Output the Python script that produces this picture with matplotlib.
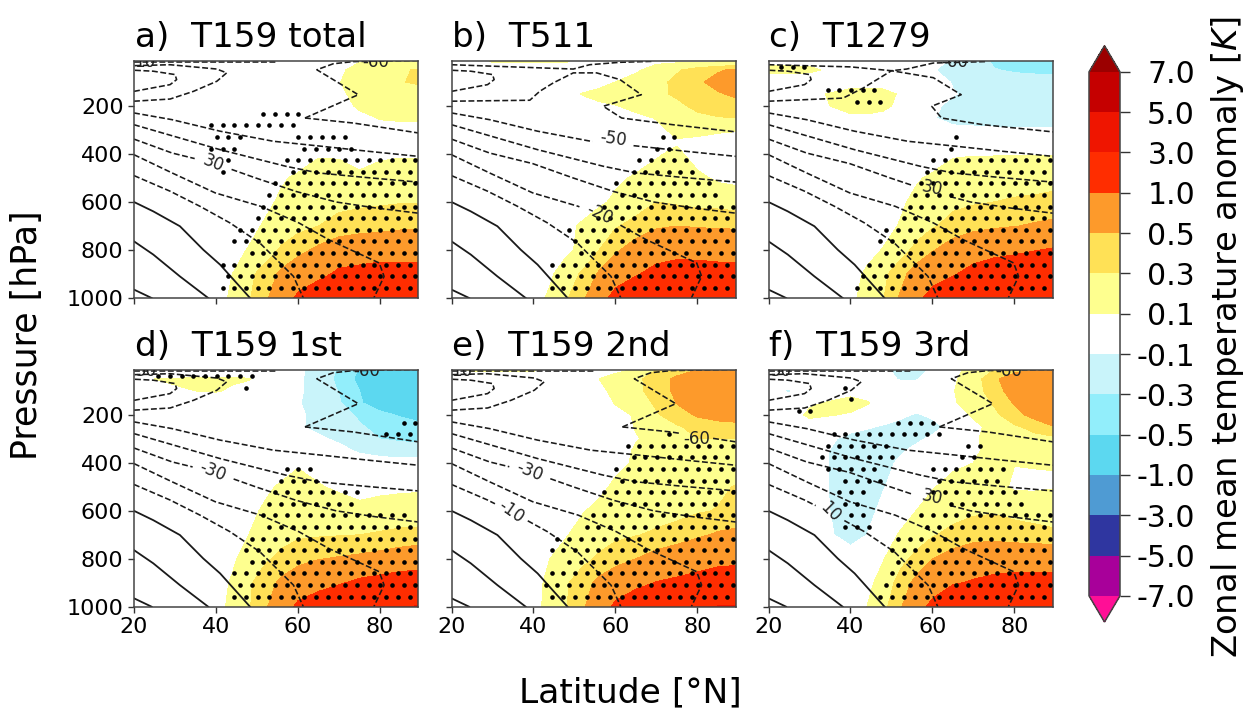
import numpy as np
import matplotlib
matplotlib.use('Agg')
import matplotlib.pyplot as plt
from matplotlib.colors import ListedColormap, BoundaryNorm

# grid the anomalies were read on
lats = [20, 25, 30, 40, 44, 48, 52, 56, 60, 65, 70, 75, 80, 85, 90]
pres = [12, 50, 100, 150, 200, 250, 300, 350, 400, 500, 600, 700, 800, 900, 1000]

levels = [-7, -5, -3, -1, -0.5, -0.3, -0.1, 0.1, 0.3, 0.5, 1, 3, 5, 7]
colors = ['#a8009a', '#2f36a0', '#4f9bd3', '#5cd8f0', '#92eefb', '#c9f4fa', '#ffffff',
          '#feff8f', '#ffe156', '#fd9a2b', '#ff2d00', '#ef1500', '#c50000']

titles = ['a)  T159 total', 'b)  T511', 'c)  T1279', 'd)  T159 1st', 'e)  T159 2nd', 'f)  T159 3rd']

anom_a = [
    [0, 0, 0, 0, 0, 0, 0, 0, 0, 0, .05, .08, .08, .08, .08],
    [0, 0, 0, 0, 0, 0, 0, 0, 0, .01, .05, .2, .25, .28, .32],
    [0, 0, 0, 0, 0, 0, 0, 0, 0, 0, .09, .2, .25, .29, .33],
    [0, 0, 0, 0, 0, 0, 0, 0, 0, 0, .05, .18, .22, .22, .22],
    [0, 0, 0, 0, 0, 0, 0, 0, 0, 0, .02, .13, .18, .18, .18],
    [0, 0, 0, 0, 0, 0, 0, 0, 0, 0, 0, .05, .11, .12, .12],
    [0, 0, 0, 0, 0, 0, 0, 0, 0, 0, 0, 0, .04, .05, .06],
    [0, 0, 0, 0, 0, 0, 0, 0, 0, 0, 0, 0, 0, 0, 0],
    [0, 0, 0, 0, 0, 0, 0, 0, 0, .08, .08, .06, .07, .08, .08],
    [0, 0, 0, 0, 0, 0, .03, .08, .13, .2, .17, .12, .17, .2, .2],
    [0, 0, 0, 0, 0, 0, .06, .13, .2, .24, .26, .27, .28, .29, .29],
    [0, 0, 0, 0, 0, .05, .12, .18, .24, .3, .35, .38, .4, .43, .44],
    [0, 0, 0, 0, .05, .11, .2, .33, .43, .55, .68, .75, .8, .85, .85],
    [0, 0, 0, .03, .1, .25, .38, .55, .68, .85, 1.1, 1.15, 1.2, 1.15, 1.15],
    [0, 0, 0, .03, .13, .28, .45, .7, 1.1, 1.4, 1.6, 3.02, 3.05, 3.05, 3.05],
]
anom_b = [
    [0, 0, .12, .12, .12, .12, .02, 0, 0, 0, .05, .05, .05, .05, .05],
    [0, 0, 0, 0, 0, 0, 0, 0, 0, .07, .18, .28, .38, .47, .55],
    [0, 0, 0, 0, 0, 0, 0, .04, .1, .18, .25, .34, .45, .6, .75],
    [0, 0, 0, 0, 0, .02, .11, .15, .2, .24, .27, .32, .42, .47, .56],
    [0, 0, 0, 0, 0, 0, .03, .07, .09, .16, .22, .27, .33, .38, .4],
    [0, 0, 0, 0, 0, 0, 0, 0, 0, .05, .11, .18, .27, .29, .3],
    [0, 0, 0, 0, 0, 0, 0, 0, 0, 0, .05, .15, .16, .13, .11],
    [0, 0, 0, 0, 0, 0, 0, 0, 0, 0, .03, .08, .05, .02, .02],
    [0, 0, 0, 0, 0, 0, 0, 0, 0, .02, .08, .14, .02, 0, 0],
    [0, 0, 0, 0, 0, 0, 0, 0, .07, .12, .18, .2, .14, .07, .05],
    [0, 0, 0, 0, 0, 0, 0, .07, .13, .2, .3, .27, .24, .23, .2],
    [0, 0, 0, 0, 0, .05, .13, .2, .28, .37, .47, .5, .48, .47, .46],
    [0, 0, 0, 0, .05, .06, .15, .3, .46, .62, .72, .8, .78, .75, .75],
    [0, 0, 0, .03, .07, .2, .33, .53, .72, .95, 1.2, 1.3, 1.3, 1.25, 1.25],
    [0, 0, 0, .03, .13, .28, .45, .75, 1.2, 1.5, 1.6, 1.7, 3.02, 3.05, 3.05],
]
anom_c = [
    [.05, .05, .05, 0, 0, 0, 0, 0, -.02, -.13, -.2, -.33, -.36, -.38, -.4],
    [.15, .15, .13, .02, 0, 0, 0, 0, -.09, -.15, -.2, -.29, -.32, -.33, -.33],
    [0, 0, 0, 0, 0, 0, 0, 0, -.04, -.11, -.15, -.2, -.23, -.24, -.25],
    [0, 0, .05, .18, .2, .17, .08, 0, -.02, -.09, -.14, -.17, -.19, -.2, -.2],
    [0, 0, .03, .17, .18, .15, .05, 0, -.07, -.14, -.16, -.18, -.18, -.18, -.18],
    [0, 0, 0, .06, .06, .03, 0, 0, -.09, -.14, -.16, -.16, -.16, -.16, -.16],
    [0, 0, 0, 0, 0, 0, 0, 0, -.02, -.07, -.07, -.08, -.08, -.08, -.08],
    [0, 0, 0, 0, 0, 0, 0, 0, 0, 0, 0, 0, 0, 0, 0],
    [0, 0, 0, 0, 0, 0, 0, 0, 0, .08, .09, .09, .09, .09, .09],
    [0, 0, 0, 0, 0, 0, 0, .08, .13, .19, .2, .21, .22, .23, .23],
    [0, 0, 0, 0, 0, 0, .07, .14, .22, .26, .28, .3, .32, .33, .36],
    [0, 0, 0, 0, 0, .04, .11, .18, .28, .36, .43, .46, .49, .53, .56],
    [0, 0, 0, 0, .04, .11, .2, .36, .48, .63, .72, .85, .9, .98, 1.05],
    [0, 0, 0, .03, .13, .25, .42, .6, .78, .95, 1.2, 1.3, 1.4, 1.5, 1.6],
    [0, 0, 0, .05, .18, .29, .52, .85, 1.2, 1.5, 1.6, 1.8, 3.02, 3.05, 3.05],
]
anom_d = [
    [0, 0, 0, 0, 0, 0, 0, 0, -.05, -.2, -.32, -.52, -.6, -.6, -.6],
    [.1, .1, .11, .12, .12, .11, .03, 0, -.07, -.18, -.35, -.56, -.7, -.75, -.75],
    [.03, .06, .09, .11, .08, .03, 0, 0, -.07, -.18, -.31, -.5, -.62, -.72, -.75],
    [0, 0, 0, 0, 0, 0, 0, 0, -.09, -.16, -.28, -.48, -.6, -.65, -.7],
    [0, 0, 0, 0, 0, 0, 0, 0, -.07, -.15, -.22, -.33, -.45, -.52, -.58],
    [0, 0, 0, 0, 0, 0, 0, 0, -.08, -.14, -.2, -.28, -.35, -.4, -.45],
    [0, 0, 0, 0, 0, 0, 0, 0, 0, -.07, -.13, -.19, -.3, -.33, -.35],
    [0, 0, 0, 0, 0, 0, 0, 0, 0, 0, -.05, -.12, -.16, -.2, -.2],
    [0, 0, 0, 0, 0, 0, 0, 0, .07, 0, 0, -.02, -.03, -.03, -.03],
    [0, 0, 0, 0, 0, 0, .06, .13, .2, .12, .06, .02, .05, .06, .07],
    [0, 0, 0, 0, 0, .05, .13, .2, .25, .24, .22, .16, .18, .2, .2],
    [0, 0, 0, 0, .03, .1, .2, .23, .27, .28, .29, .3, .32, .34, .35],
    [0, 0, 0, 0, .07, .18, .27, .35, .42, .49, .52, .55, .59, .65, .7],
    [0, 0, 0, .03, .12, .27, .4, .55, .68, .8, .95, 1.1, 1.2, 1.3, 1.35],
    [0, 0, 0, .03, .15, .28, .46, .72, 1.1, 1.35, 1.5, 1.6, 3.02, 3.05, 3.05],
]
anom_e = [
    [.08, .12, .12, .12, .02, 0, 0, 0, .05, .12, .3, .4, .5, .5, .5],
    [0, 0, 0, 0, 0, 0, 0, .1, .18, .26, .38, .55, .7, .75, .78],
    [0, 0, 0, 0, 0, 0, 0, .05, .15, .25, .38, .55, .72, .78, .8],
    [0, 0, 0, 0, 0, 0, 0, .02, .11, .2, .33, .51, .68, .72, .75],
    [0, 0, 0, 0, 0, 0, 0, 0, .04, .12, .28, .39, .53, .6, .63],
    [0, 0, 0, 0, 0, 0, 0, 0, .02, .11, .22, .28, .35, .4, .42],
    [0, 0, 0, 0, 0, 0, 0, 0, 0, .09, .14, .25, .3, .3, .3],
    [0, 0, 0, 0, 0, 0, 0, 0, .03, .12, .15, .16, .17, .18, .2],
    [0, 0, 0, 0, 0, 0, 0, .01, .06, .12, .15, .16, .16, .17, .17],
    [0, 0, 0, 0, 0, 0, 0, .06, .13, .17, .19, .2, .22, .26, .32],
    [0, 0, 0, 0, 0, 0, .09, .14, .18, .2, .22, .24, .28, .31, .36],
    [0, 0, 0, 0, 0, .09, .16, .22, .26, .29, .33, .38, .46, .53, .56],
    [0, 0, 0, 0, .1, .17, .25, .33, .4, .5, .6, .68, .75, .82, .85],
    [0, 0, 0, .03, .15, .28, .4, .56, .7, .85, 1.02, 1.1, 1.2, 1.35, 1.4],
    [0, 0, 0, .03, .17, .29, .46, .72, 1.1, 1.4, 1.6, 1.8, 3.02, 3.05, 3.05],
]
anom_f = [
    [0, 0, 0, 0, 0, -.06, -.16, -.18, -.06, .02, .2, .3, .42, .5, .5],
    [0, 0, 0, 0, 0, -.05, -.11, -.11, -.05, .07, .2, .45, .65, .72, .75],
    [-.05, -.12, 0, .03, 0, 0, 0, 0, 0, .09, .22, .38, .63, .72, .75],
    [0, 0, .07, .17, .12, 0, 0, 0, 0, .08, .18, .32, .52, .68, .72],
    [0, 0, .14, .08, 0, 0, -.06, -.12, -.07, .03, .12, .25, .42, .58, .65],
    [0, 0, 0, -.05, -.08, -.12, -.16, -.2, -.15, -.05, .06, .15, .27, .36, .5],
    [0, 0, 0, -.15, -.18, -.2, -.2, -.13, -.07, 0, .07, .18, .22, .24, .25],
    [0, 0, -.01, -.2, -.2, -.18, -.12, -.06, 0, 0, .08, .14, .16, .16, .16],
    [0, 0, -.01, -.2, -.18, -.14, -.08, 0, 0, .07, .1, .12, .105, .11, .105],
    [0, 0, 0, -.22, -.2, -.11, -.03, .05, .09, .15, .2, .17, .07, .07, .09],
    [0, 0, 0, -.2, -.16, -.05, .04, .1, .16, .22, .27, .28, .25, .24, .22],
    [0, 0, .02, -.18, -.1, .04, .11, .18, .28, .36, .4, .42, .38, .35, .33],
    [0, 0, 0, 0, .03, .09, .23, .36, .5, .6, .7, .72, .74, .75, .75],
    [0, 0, 0, 0, .05, .17, .37, .56, .72, .95, 1.05, 1.15, 1.2, 1.2, 1.2],
    [0, 0, 0, 0, .1, .24, .46, .75, 1.15, 1.5, 1.6, 1.7, 3.02, 3.05, 3.05],
]

# stippling: lat ranges, one entry per dot row counted up from the bottom
sig_a = [[(41, 90)], [(43, 90)], [(41, 90)], [(48, 90)], [(44, 90)], [(45, 90)], [(50, 90)], [(51, 90)], [(52.5, 90)],
         [(54, 90)], [(41, 42), (58, 90)], [(42.5, 44), (57, 90)], [(38, 45), (61, 75)], [(40, 46), (60, 74)],
         [(38, 59)], [(51, 60.5)]]
sig_b = [[(42, 90)], [(44, 90)], [(42, 90)], [(51, 90)], [(48, 90)], [(46.5, 90)], [(55, 90)], [(56, 90)], [(59, 85)],
         [(60, 83)], [(62, 79)], [(63, 78)], [(70, 74)], [(69, 75)]]
sig_c = [[(40.5, 90)], [(42, 90)], [(43.5, 90)], [(47, 90)], [(46, 90)], [(47, 90)], [(52, 90)], [(53, 90)], [(54.5, 90)],
         [(56, 90)], [(57, 90)], [(59, 90)], [(62.5, 64.5)], [(64, 66)], [], [], [(40.5, 50)], [(33.5, 48)], [], [(22, 31)]]
sig_d = [[(43, 90)], [(44, 90)], [(43, 90)], [(47, 90)], [(46, 90)], [(47, 90)], [(51, 90)], [(50, 88)], [(51, 75)],
         [(52.5, 76)], [(54, 66)], [(55, 65)], [], [], [(79, 88.5)], [(83, 89)], [], [], [(45.5, 49.5)], [(24, 50)]]
sig_e = [[(44, 90)], [(42, 90)], [(44, 90)], [(48, 90)], [(44, 90)], [(45, 90)], [(52, 90)], [(53.5, 90)], [(58, 90)],
         [(56.5, 90)], [(60.5, 90)], [(59, 90)], [(63, 90)], [(62, 90)], [(72, 75.5)]]
sig_f = [[(44.5, 90)], [(46, 90)], [(47.5, 90)], [(49, 90)], [(50, 90)], [(49, 90)], [(36.5, 45.5), (57, 90)],
         [(38, 44), (54.5, 90)], [(38, 43), (63, 82)], [(35, 44), (57.5, 81)], [(36.5, 48), (60, 76.5)],
         [(32.5, 47), (60, 77.5)], [(31, 51), (67, 70.5)], [(33.5, 51), (66, 72)], [(34.5, 62.5)], [(49, 61)],
         [(25, 31.5)], [(38, 41.5)], [(36.5, 40)]]

# isotherms (lat, pressure), same in all panels unless noted
iso_p20 = ([20, 24.3], [965, 1000])
iso_p10 = ([20, 24.7, 31.2, 38.1], [764, 819, 910, 1000])
iso_0 = ([20, 24.7, 31.2, 36.9, 41, 48.3], [600, 639, 701, 799, 861, 1000])
iso_m10 = ([20, 28.8, 36.1, 43.4, 50.7, 55.6, 58.9, 61.3], [490, 555, 618, 687, 771, 854, 910, 1000])
iso_m20 = ([20, 29.3, 39.8, 50.9, 60.2, 67.5, 79.8, 81, 78.5], [403, 479, 562, 618, 687, 757, 854, 910, 1000])
iso_m30 = ([20, 29.3, 39.8, 49.7, 59.5, 69.3, 79, 90], [338, 396, 440, 500, 556, 600, 625, 648])
iso_m40 = ([20, 29.3, 41, 57, 65, 76, 90], [278, 324, 382, 451, 479, 497, 518])
iso_m50 = ([20, 29.3, 41, 54, 65.9, 77.3, 90], [229, 257, 305, 347, 368, 389, 411])
# -60 folds back at the tropopause and differs with resolution
iso_m60_left = ([20, 28.8, 34.5, 40.2, 42.6, 40.2, 28.8, 20], [180, 171, 139, 97, 62, 46, 28, 32])
iso_m60_low = ([61.7, 73.5, 81.6, 90], [250, 271, 292, 314])
iso_m60_fold = ([61.7, 74.7, 64.6, 68.6, 73.5, 90], [250, 153, 49, 24, 15, 10])
iso_m60_t511 = ([20, 39.1, 41.5, 44.8, 49.7, 55.4, 61.1, 66.3, 57, 61.5, 74, 90],
                [180, 176, 139, 104, 62, 62, 90, 153, 201, 250, 278, 309])
iso_m60_t1279 = ([20, 38.2, 43.1, 50, 60.2, 67, 59.8, 62.2, 72.4, 90],
                 [180, 167, 125, 53, 82, 153, 201, 250, 278, 309])
iso_m70 = ([20, 28.8, 30.4, 30, 24.7, 20], [139, 111, 90, 69, 55, 51])
iso_top = ([20, 55], [18, 18])
iso_top_t511 = ([20, 49.7, 53.7, 61, 69], [28, 46, 28, 18, 14])
iso_top_t1279 = ([20, 40, 50, 53.7, 60.2, 73], [28, 37, 53, 46, 21, 15])

# contour labels for each panel: (text, lat, pressure, rotation, line broken, half gap)
labels_a = [('30', 39.3, 440, -22, iso_m30, 4.5), ('-60', 79, 18, 0, None, 0), ('10', 22.5, 18, 0, None, 0)]
labels_b = [('-50', 59.4, 337, -8, iso_m50, 5), ('-20', 56.2, 652, -25, iso_m20, 5)]
labels_c = [('30', 59.8, 545, -12, iso_m30, 4.5), ('-60', 65.5, 18, 0, None, 0)]
labels_d = [('-30', 39.3, 437, -22, iso_m30, 5), ('-60', 76.7, 18, 0, None, 0), ('50', 23, 18, 0, None, 0)]
labels_e = [('-30', 39.1, 437, -22, iso_m30, 5), ('-10', 34.6, 604, -35, iso_m10, 4),
            ('-60', 79.8, 299, 0, iso_m60_low, 4), ('10', 22.5, 18, 0, None, 0)]
labels_f = [('30', 59.8, 545, -12, iso_m30, 4.5), ('10', 35, 604, -45, iso_m10, 3.5),
            ('-60', 78.5, 18, 0, None, 0), ('50', 23, 18, 0, None, 0)]

t159_lines = [iso_m60_left, iso_m60_low, iso_m60_fold, iso_top]
panels = [
    (anom_a, sig_a, labels_a, t159_lines),
    (anom_b, sig_b, labels_b, [iso_m60_t511, iso_top_t511]),
    (anom_c, sig_c, labels_c, [iso_m60_t1279, iso_top_t1279]),
    (anom_d, sig_d, labels_d, t159_lines),
    (anom_e, sig_e, labels_e, t159_lines),
    (anom_f, sig_f, labels_f, t159_lines),
]

W, H = 1256, 711
fig = plt.figure(figsize=(W / 100, H / 100), dpi=100)
cmap = ListedColormap(colors)
cmap.set_under('#ff0f96')
cmap.set_over('#9b0000')
norm = BoundaryNorm(levels, cmap.N)


def px_axes(x0, y0, x1, y1):
    return fig.add_axes([x0 / W, 1 - y1 / H, (x1 - x0) / W, (y1 - y0) / H])


def break_line(line, lat0, half):
    # open a gap where a contour label sits, lat has to rise along the line
    x, y = np.array(line[0], float), np.array(line[1], float)
    a, b = lat0 - half, lat0 + half
    return (np.r_[x[x < a], a, np.nan, b, x[x > b]],
            np.r_[y[x < a], np.interp(a, x, y), np.nan, np.interp(b, x, y), y[x > b]])


lefts = [134, 451.5, 768.5]
tops = [(61, 298), (370, 606.7)]
cs = None
for n, (anom, sig, labs, extra) in enumerate(panels):
    col, row = n % 3, n // 3
    ax = px_axes(lefts[col], tops[row][0], lefts[col] + 284, tops[row][1])
    cs = ax.contourf(lats, pres, np.array(anom), levels=levels, cmap=cmap, norm=norm, extend='both')

    # stipples sit on a staggered regular pattern
    for k, ranges in enumerate(sig):
        first = 21.65 if k % 2 == 0 else 20.2
        lat_row = first + 2.85 * np.arange(25)
        p_row = 958 - 48.4 * k
        for lo, hi in ranges:
            pick = lat_row[(lat_row >= lo) & (lat_row <= hi)]
            ax.scatter(pick, np.full(len(pick), p_row), s=11, c='k', linewidths=0, zorder=3)

    broken = {id(l[4]): l for l in labs if l[4] is not None}
    for line in [iso_m10, iso_m20, iso_m30, iso_m40, iso_m50, iso_m70] + extra:
        x, y = line
        if id(line) in broken:
            x, y = break_line(line, broken[id(line)][1], broken[id(line)][5])
        ax.plot(x, y, color='#1a1a1a', lw=1.15, ls='--', zorder=2)
    for line in [iso_p20, iso_p10, iso_0]:
        ax.plot(line[0], line[1], color='#1a1a1a', lw=1.3, zorder=2)

    for l in labs:
        ax.text(l[1], l[2], l[0], fontsize=12, rotation=l[3], ha='center', va='center',
                color='#222222', clip_on=True, zorder=4)

    ax.set_xlim(20, 89.27)
    ax.set_ylim(1000, 12.5)
    ax.set_xticks([20, 40, 60, 80])
    ax.set_yticks([200, 400, 600, 800, 1000])
    ax.tick_params(labelsize=16, length=4.5, width=1, color='#333333', pad=3)
    if row == 0:
        ax.set_xticklabels([])
    if col != 0:
        ax.set_yticklabels([])
    for s in ax.spines.values():
        s.set_color('#444444')
        s.set_linewidth(1.1)
    ax.text(0.003, 1.03, titles[n], transform=ax.transAxes, fontsize=24.7, ha='left', va='bottom')

fig.text(27 / W, 1 - 335 / H, 'Pressure [hPa]', rotation=90, fontsize=25, ha='center', va='center')
fig.text(630 / W, 1 - 693 / H, 'Latitude [°N]', fontsize=24.8, ha='center', va='center')

cax = px_axes(1089, 45.7, 1120, 622)
cb = fig.colorbar(cs, cax=cax, ticks=levels, format='%.1f')
cb.ax.tick_params(labelsize=21.5, length=7, width=1, color='#333333', pad=47)
for t in cb.ax.get_yticklabels():
    t.set_ha('right')
cb.outline.set_edgecolor('#444444')
cb.outline.set_linewidth(1.1)
fig.text(1228 / W, 1 - 337 / H, 'Zonal mean temperature anomaly [$K$]', rotation=90, fontsize=24.4,
         ha='center', va='center')

fig.savefig('out.png', dpi=100)
